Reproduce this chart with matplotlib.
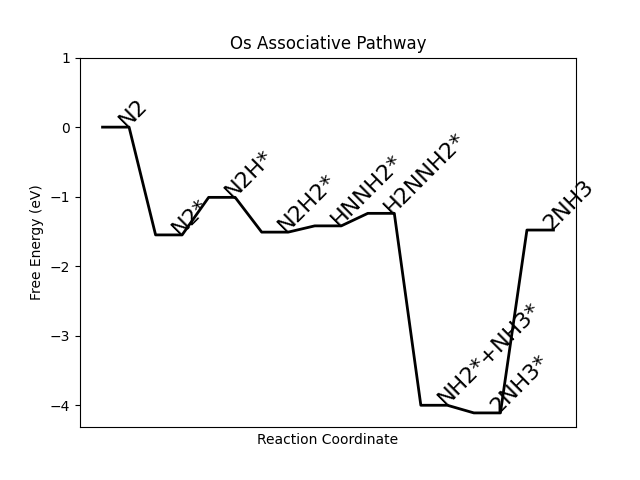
import matplotlib
matplotlib.use("Agg")
import matplotlib.pyplot as plt

labels = ["N2", "N2*", "N2H*", "N2H2*", "HNNH2*", "H2NNH2*", "NH2*+NH3*", "2NH3*", "2NH3"]
energies = [0.0, -1.55, -1.01, -1.51, -1.42, -1.24, -4.0, -4.11, -1.48]

fig, ax = plt.subplots(figsize=(6.4, 4.8), dpi=100)
xs, ys = [], []
for i, e in enumerate(energies):
    xs += [i, i + 0.5]
    ys += [e, e]
ax.plot(xs, ys, color="black", linewidth=2)
for i, (lab, e) in enumerate(zip(labels, energies)):
    ax.text(i + 0.25, e, lab, rotation=45, fontsize=16)
ax.set_ylim(top=1)
ax.set_xticks([])
ax.set_xlabel("Reaction Coordinate")
ax.set_ylabel("Free Energy (eV)")
ax.set_title("Os Associative Pathway")
fig.savefig("out.png")
